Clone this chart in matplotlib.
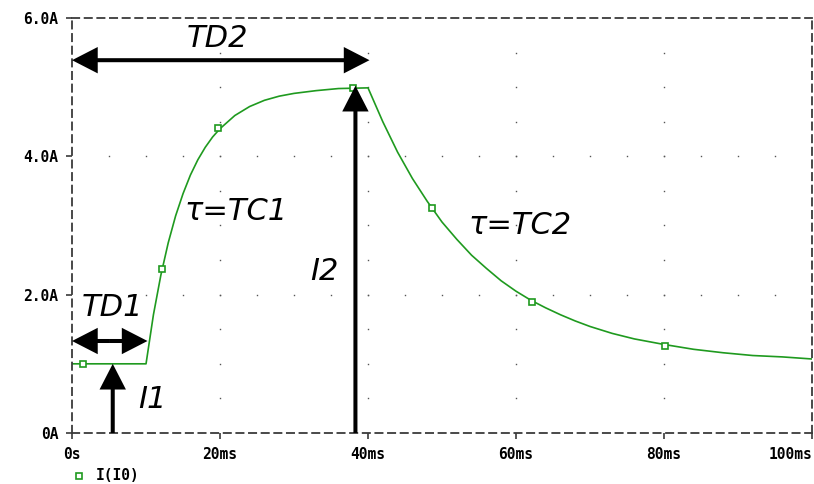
import numpy as np
import matplotlib
matplotlib.use("Agg")
import matplotlib.pyplot as plt

# source parameters (EXP current source)
I1 = 1.0
I2 = 5.0
TD1 = 10.0
TD2 = 40.0

# waveform (time in ms, current in A)
t_ms = [0, 10, 11, 12, 13, 14, 15, 16, 17, 18, 19, 20, 22, 24, 26, 28, 30, 33, 36, 40,
        42, 44, 46, 48, 50, 52, 54, 56, 58, 60, 62, 64, 66, 68, 70, 73, 76, 80,
        84, 88, 92, 96, 100]
i_amp = [1.00, 1.00, 1.71, 2.28, 2.75, 3.14, 3.46, 3.73, 3.95, 4.13, 4.28, 4.40, 4.59, 4.72,
         4.81, 4.87, 4.91, 4.95, 4.98, 4.99,
         4.50, 4.06, 3.68, 3.35, 3.05, 2.80, 2.57, 2.38, 2.20, 2.05, 1.92, 1.81, 1.71,
         1.62, 1.54, 1.44, 1.36, 1.28, 1.21, 1.16, 1.12, 1.10, 1.07]

# square markers on the trace
mark_t = [1.5, 12.2, 19.7, 38.0, 48.6, 62.2, 80.2]
mark_i = [1.00, 2.37, 4.41, 4.99, 3.25, 1.89, 1.26]

x_ticks = [0, 20, 40, 60, 80, 100]
x_labels = ["0s", "20ms", "40ms", "60ms", "80ms", "100ms"]
y_ticks = [0, 2, 4, 6]
y_labels = ["0A", "2.0A", "4.0A", "6.0A"]

green = "#1f9a1f"
frame = "#3a3a3a"


def arrow(ax, start, end):
    # filled arrow with sharp triangular head
    ax.annotate("", xy=end, xytext=start, annotation_clip=False,
                arrowprops=dict(width=2.9, headwidth=19, headlength=18.5,
                                facecolor="black", edgecolor="none",
                                shrink=0))


fig = plt.figure(figsize=(8.14, 4.84), dpi=100)
ax = fig.add_axes([0.0885, 0.1054, 0.909, 0.8574])
ax.set_xlim(0, 100)
ax.set_ylim(0, 6)

# dotted grid like the simulator probe window
for gx in [20, 40, 60, 80]:
    ys = np.arange(0.5, 6, 0.5)
    ax.plot([gx] * len(ys), ys, ls="none", marker="s", ms=1.0, color="#555555", mew=0)
for gy in [2, 4]:
    xs = np.arange(5, 100, 5)
    ax.plot(xs, [gy] * len(xs), ls="none", marker="s", ms=1.0, color="#555555", mew=0)

ax.plot(t_ms, i_amp, color=green, lw=1.2)
ax.plot(mark_t, mark_i, ls="none", marker="s", ms=5, mfc="white", mec=green, mew=1.2)

for side in ax.spines.values():
    side.set_linestyle((0, (4, 3)))
    side.set_color(frame)
    side.set_linewidth(1.3)

mono = dict(family="DejaVu Sans Mono", weight="bold", size=10.5)
ax.set_xticks(x_ticks)
ax.set_xticklabels(x_labels, **mono)
ax.get_xticklabels()[-1].set_ha("right")
ax.set_yticks(y_ticks)
ax.set_yticklabels(y_labels, **mono)
ax.tick_params(direction="out", length=4, width=1.2, color=frame, pad=6)

# annotation arrows
mid2 = TD2 / 2
arrow(ax, (mid2, 5.39), (0, 5.39))
arrow(ax, (mid2, 5.39), (TD2 + 0.2, 5.39))
mid1 = TD1 / 2
arrow(ax, (mid1, 1.33), (0, 1.33))
arrow(ax, (mid1, 1.33), (TD1 + 0.2, 1.33))
arrow(ax, (5.5, 0), (5.5, I1))
arrow(ax, (38.3, 0), (38.3, I2 + 0.02))

lab = dict(family="DejaVu Sans", style="italic", size=22, color="black",
           ha="center", va="center")
ax.text(19.7, 5.71, "TD2", **lab)
ax.text(5.4, 1.81, "TD1", **lab)
ax.text(10.9, 0.48, "I1", **lab)
ax.text(34.1, 2.34, "I2", **lab)
ax.text(22.2, 3.2, "τ=TC1", **lab)
ax.text(60.6, 3.0, "τ=TC2", **lab)

# legend entry below the axis
fig.lines.append(plt.Line2D([79 / 814], [1 - 476 / 484], transform=fig.transFigure,
                            ls="none", marker="s", ms=5, mfc="white", mec=green, mew=1.2))
fig.text(96 / 814, 1 - 476 / 484, "I(I0)", va="center", ha="left", **mono)

fig.savefig("out.png", dpi=100)
